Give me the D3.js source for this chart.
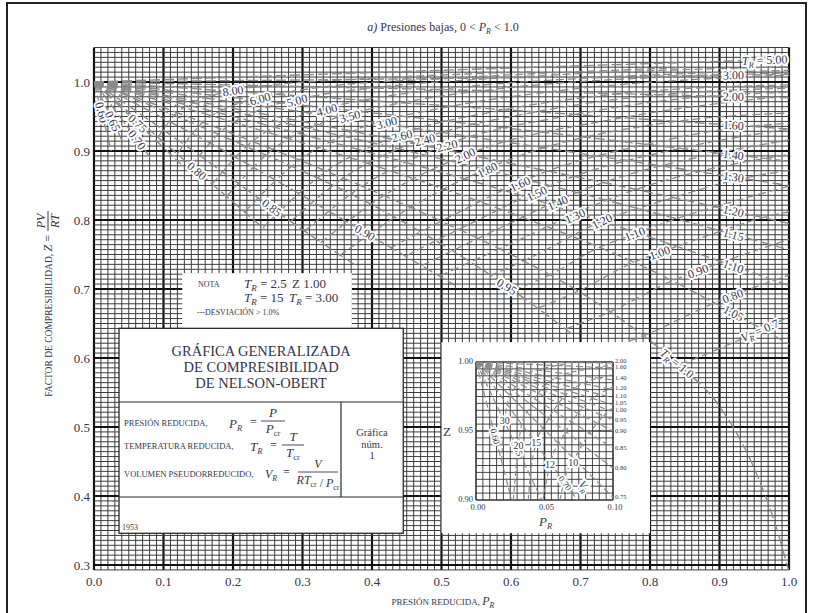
<!DOCTYPE html>
<html>
<head>
<meta charset="utf-8">
<script src="https://cdn.jsdelivr.net/npm/d3@7"></script>
<style>
  body { margin: 0; background: #fff; }
  svg { display: block; }
  text { font-family: "Liberation Serif", "DejaVu Serif", serif; fill: #33364a; }
</style>
</head>
<body>
<svg id="chart" width="814" height="613"></svg>
<script>
// ---- values ----
const xTicks = [0, 0.1, 0.2, 0.3, 0.4, 0.5, 0.6, 0.7, 0.8, 0.9, 1.0];
const yTicks = [0.3, 0.4, 0.5, 0.6, 0.7, 0.8, 0.9, 1.0];

// constant reduced temperature curves, [P_R, Z]
const trNames = ['0.60', '0.65', '0.70', '0.75', '0.80', '0.85', '0.90', '0.95', '1.00',
  '1.05', '1.10', '1.15', '1.20', '1.30', '1.40', '1.60', '2.00', '3.00', '5.00'];
const trLines = [
  [[0, 1], [0.015, 0.94], [0.025, 0.9]],
  [[0, 1], [0.03, 0.937], [0.045, 0.905]],
  [[0, 1], [0.06, 0.919], [0.085, 0.885]],
  [[0, 1], [0.08, 0.924], [0.125, 0.881]],
  [[0, 1], [0.1, 0.913], [0.2, 0.826], [0.245, 0.787]],
  [[0, 1], [0.15, 0.895], [0.3, 0.786], [0.38, 0.732]],
  [[0, 1], [0.2, 0.893], [0.4, 0.776], [0.52, 0.705]],
  [[0, 1], [0.2, 0.915], [0.4, 0.822], [0.6, 0.70], [0.69, 0.633]],
  [[0, 1], [0.1, 0.963], [0.2, 0.925], [0.3, 0.885], [0.4, 0.843], [0.5, 0.798], [0.6, 0.75],
    [0.7, 0.695], [0.8, 0.625], [0.85, 0.583], [0.9, 0.53], [0.95, 0.44], [0.98, 0.36], [1.0, 0.29]],
  [[0, 1], [0.2, 0.942], [0.4, 0.88], [0.6, 0.81], [0.8, 0.728], [0.92, 0.665], [1.0, 0.62]],
  [[0, 1], [0.2, 0.95], [0.4, 0.897], [0.6, 0.84], [0.8, 0.775], [1.0, 0.705]],
  [[0, 1], [0.2, 0.957], [0.4, 0.912], [0.6, 0.864], [0.8, 0.812], [1.0, 0.757]],
  [[0, 1], [0.2, 0.962], [0.4, 0.923], [0.6, 0.882], [0.8, 0.84], [1.0, 0.795]],
  [[0, 1], [0.2, 0.971], [0.4, 0.942], [0.6, 0.912], [0.8, 0.881], [1.0, 0.85]],
  [[0, 1], [0.25, 0.972], [0.5, 0.944], [0.75, 0.915], [1.0, 0.885]],
  [[0, 1], [0.5, 0.966], [1.0, 0.932]],
  [[0, 1], [0.5, 0.989], [1.0, 0.977]],
  [[0, 1], [0.5, 1.005], [1.0, 1.011]],
  [[0, 1], [0.5, 1.017], [1.0, 1.033]]
];
const trLabelAt = [0.011, 0.027, 0.062, 0.063, 0.148, 0.256, 0.39, 0.594, 0.839,
  0.92, 0.92, 0.92, 0.92, 0.92, 0.92, 0.92, 0.92, 0.92, 0.965];

// constant pseudo-reduced volume curves, [P_R, Z]
const vrNames = ['8.00', '6.00', '5.00', '4.00', '3.50', '3.00', '2.60', '2.40', '2.20', '2.00',
  '1.80', '1.60', '1.50', '1.40', '1.30', '1.20', '1.10', '1.00', '0.90', '0.80', '0.7'];
const vrLines = [
  [[0.092, 0.92], [0.12, 0.956], [0.146, 0.972], [0.197, 0.987], [0.249, 0.995], [0.376, 1.004], [0.635, 1.015]],
  [[0.12, 0.896], [0.157, 0.942], [0.193, 0.963], [0.262, 0.982], [0.331, 0.993], [0.503, 1.005], [0.851, 1.021]],
  [[0.14, 0.878], [0.186, 0.931], [0.23, 0.956], [0.313, 0.979], [0.397, 0.991], [0.605, 1.007], [1.0, 1.022]],
  [[0.17, 0.852], [0.229, 0.915], [0.284, 0.946], [0.389, 0.974], [0.495, 0.989], [0.756, 1.008], [1.0, 1.017]],
  [[0.191, 0.834], [0.258, 0.903], [0.322, 0.938], [0.443, 0.97], [0.564, 0.988], [0.865, 1.009], [1.0, 1.013]],
  [[0.217, 0.812], [0.296, 0.887], [0.371, 0.928], [0.515, 0.965], [0.657, 0.986], [1.0, 1.01]],
  [[0.243, 0.789], [0.335, 0.871], [0.423, 0.917], [0.591, 0.96], [0.756, 0.983], [1.0, 0.996]],
  [[0.283, 0.798], [0.359, 0.861], [0.456, 0.911], [0.638, 0.957], [0.818, 0.982], [1.0, 0.991]],
  [[0.303, 0.784], [0.386, 0.849], [0.493, 0.904], [0.693, 0.953], [0.891, 0.98], [1.0, 0.985]],
  [[0.326, 0.767], [0.418, 0.836], [0.537, 0.895], [0.759, 0.948], [0.978, 0.978]],
  [[0.353, 0.748], [0.455, 0.818], [0.589, 0.884], [0.838, 0.943], [1.0, 0.955]],
  [[0.427, 0.76], [0.499, 0.798], [0.653, 0.871], [0.796, 0.91], [0.935, 0.935], [1.0, 0.94]],
  [[0.449, 0.748], [0.524, 0.786], [0.69, 0.863], [0.844, 0.904], [1.0, 0.932]],
  [[0.472, 0.734], [0.552, 0.773], [0.732, 0.854], [0.897, 0.897], [1.0, 0.916]],
  [[0.498, 0.719], [0.583, 0.758], [0.779, 0.844], [0.87, 0.87], [1.0, 0.895]],
  [[0.569, 0.719], [0.617, 0.74], [0.731, 0.798], [0.832, 0.832], [0.932, 0.86], [1.0, 0.872]],
  [[0.603, 0.698], [0.655, 0.72], [0.724, 0.759], [0.781, 0.781], [0.838, 0.802], [0.893, 0.819], [1.0, 0.849]],
  [[0.638, 0.672], [0.697, 0.697], [0.775, 0.738], [0.837, 0.761], [0.902, 0.784], [0.965, 0.804], [1.0, 0.812]],
  [[0.678, 0.642], [0.74, 0.666], [0.83, 0.711], [0.904, 0.739], [0.976, 0.764], [1.0, 0.772]],
  [[0.722, 0.608], [0.79, 0.632], [0.893, 0.68], [0.98, 0.713], [1.0, 0.72]],
  [[0.843, 0.59], [0.963, 0.642], [1.0, 0.66]]
];
const vrLabelAt = [0.2, 0.239, 0.292, 0.335, 0.368, 0.421, 0.443, 0.476, 0.508, 0.534,
  0.566, 0.613, 0.637, 0.667, 0.692, 0.731, 0.778, 0.814, 0.869, 0.919, 0.958];

// small inset, 0 < P_R < 0.10
const insetXTicks = [0, 0.05, 0.1];
const insetYTicks = [0.9, 0.95, 1.0];
const insetTrNames = ['2.00', '1.60', '1.40', '1.20', '1.10', '1.05', '1.00', '0.95', '0.90', '0.85', '0.80', '0.75'];
const insetTrEnds = [0.9993, 0.9957, 0.987, 0.98, 0.974, 0.969, 0.964, 0.958, 0.95, 0.9377, 0.923, 0.902];
const insetLowNames = ['0.60', '0.65', '0.70'];
const insetLowLines = [
  [[0, 1], [0.026, 0.9]],
  [[0, 1], [0.048, 0.9]],
  [[0, 1], [0.074, 0.9]]
];
const insetLowLabelAt = [0.014, 0.03, 0.065];
const insetVrNames = ['30', '20', '15', '12', '10'];
const insetVrLines = [
  [[0.0186, 0.928], [0.0208, 0.956], [0.0227, 0.969], [0.026, 0.977], [0.0329, 0.988], [0.0397, 0.9925], [0.0532, 0.9964], [0.0666, 0.9985]],
  [[0.0273, 0.9], [0.0305, 0.936], [0.0334, 0.955], [0.0387, 0.966], [0.0491, 0.982], [0.0593, 0.989], [0.0796, 0.9946], [0.0998, 0.9978]],
  [[0.0381, 0.9], [0.0396, 0.917], [0.0438, 0.941], [0.0511, 0.9556], [0.0651, 0.976], [0.0788, 0.985], [0.0923, 0.989], [0.1, 0.991]],
  [[0.0489, 0.9], [0.0543, 0.927], [0.0629, 0.945], [0.0808, 0.97], [0.098, 0.981], [0.1, 0.982]],
  [[0.0613, 0.9], [0.0641, 0.913], [0.0747, 0.935], [0.0964, 0.964], [0.1, 0.967]]
];
const insetVrLabelAt = [0.021, 0.031, 0.044, 0.054, 0.071];

// ---- drawing ----
const svg = d3.select('#chart');
const x = d3.scaleLinear().domain([0, 1]).range([94, 789]);
const y = d3.scaleLinear().domain([0.3, 1.0]).range([565, 82]);
const zTop = 1.05, zBot = 0.3 - 1 / 140;
const curveCol = '#8a8a8a';

// outer frame
svg.append('rect').attr('x', 7).attr('y', 3).attr('width', 799).attr('height', 630)
    .attr('fill', 'none').attr('stroke', '#222').attr('stroke-width', 2);

// graph paper
const grid = svg.append('g');
d3.range(0, 101).forEach(i => {
    grid.append('line')
        .attr('x1', x(i / 100)).attr('x2', x(i / 100))
        .attr('y1', y(zBot)).attr('y2', y(zTop))
        .attr('stroke', i % 10 === 0 ? '#111' : '#3c3c3c')
        .attr('stroke-width', i % 10 === 0 ? 2.2 : 1);
});
d3.range(-1, 106).forEach(i => {
    const v = 0.3 + i / 140;
    grid.append('line')
        .attr('x1', x(0)).attr('x2', x(1))
        .attr('y1', y(v)).attr('y2', y(v))
        .attr('stroke', i % 14 === 0 ? '#111' : '#3c3c3c')
        .attr('stroke-width', i % 14 === 0 ? 2.2 : 1);
});

svg.append('clipPath').attr('id', 'plotClip').append('rect')
    .attr('x', x(0)).attr('y', y(zTop)).attr('width', x(1) - x(0)).attr('height', y(zBot) - y(zTop));

const line = d3.line().x(d => x(d[0])).y(d => y(d[1])).curve(d3.curveMonotoneX);
const curves = svg.append('g').attr('clip-path', 'url(#plotClip)');

curves.selectAll('path.tr').data(trLines).enter().append('path')
    .attr('class', 'tr')
    .attr('d', line)
    .attr('fill', 'none').attr('stroke', curveCol).attr('stroke-width', 1.4)
    .attr('stroke-dasharray', '10,4');

curves.selectAll('path.vr').data(vrLines).enter().append('path')
    .attr('class', 'vr')
    .attr('d', line)
    .attr('fill', 'none').attr('stroke', curveCol).attr('stroke-width', 1.3)
    .attr('stroke-dasharray', '8,4');

// point + angle on a polyline at a given P_R
function along(pts, p, sx, sy) {
    let i = 0;
    while (i < pts.length - 2 && pts[i + 1][0] < p) i++;
    const a = pts[i], b = pts[i + 1];
    const t = (p - a[0]) / (b[0] - a[0]);
    const z = a[1] + t * (b[1] - a[1]);
    const ang = Math.atan2(sy(b[1]) - sy(a[1]), sx(b[0]) - sx(a[0])) * 180 / Math.PI;
    return { px: sx(p), py: sy(z), ang: ang };
}

function halo(sel) {
    return sel.attr('stroke', '#fff').attr('stroke-width', 4).attr('paint-order', 'stroke')
        .attr('stroke-linejoin', 'round');
}

function subLabel(g, sym, rest, size) {
    const t = g.append('text').attr('font-size', size).attr('text-anchor', 'middle').attr('dy', '0.35em');
    t.append('tspan').attr('font-style', 'italic').text(sym);
    t.append('tspan').attr('font-style', 'italic').attr('font-size', size * 0.7).attr('dy', '0.35em').text('R');
    t.append('tspan').attr('dy', '-0.25em').text(rest);
    return t;
}

// main curve labels
const labels = svg.append('g');
trLines.forEach((pts, i) => {
    const pos = along(pts, trLabelAt[i], x, y);
    const g = labels.append('g').attr('transform', `translate(${pos.px},${pos.py}) rotate(${pos.ang})`);
    let t;
    if (trNames[i] === '5.00') t = subLabel(g, 'T', ' = 5.00', 12);
    else if (trNames[i] === '1.00') t = subLabel(g, 'T', ' = 1.0', 12);
    else t = g.append('text').attr('font-size', 12).attr('text-anchor', 'middle').attr('dy', '0.35em').text(trNames[i]);
    halo(t);
});
vrLines.forEach((pts, i) => {
    const pos = along(pts, vrLabelAt[i], x, y);
    const g = labels.append('g').attr('transform', `translate(${pos.px},${pos.py}) rotate(${pos.ang})`);
    let t;
    if (vrNames[i] === '0.7') {
        t = g.append('text').attr('font-size', 12).attr('text-anchor', 'middle').attr('dy', '0.35em');
        t.append('tspan').attr('font-style', 'italic').text('V');
        t.append('tspan').attr('font-style', 'italic').attr('font-size', 8).attr('dy', '0.35em').text('R');
        t.append('tspan').attr('dy', '-0.25em').text(' = 0.7');
    } else {
        t = g.append('text').attr('font-size', 12).attr('text-anchor', 'middle').attr('dy', '0.35em').text(vrNames[i]);
    }
    halo(t);
});

// axis tick labels
svg.append('g').selectAll('text').data(yTicks).enter().append('text')
    .attr('x', x(0) - 4).attr('y', d => y(d)).attr('dy', '0.35em')
    .attr('text-anchor', 'end').attr('font-size', 13)
    .text(d3.format('.1f'));
svg.append('g').selectAll('text').data(xTicks).enter().append('text')
    .attr('x', d => x(d)).attr('y', y(zBot) + 16)
    .attr('text-anchor', 'middle').attr('font-size', 13)
    .text(d3.format('.1f'));

// title
const title = svg.append('text').attr('x', 443).attr('y', 31).attr('text-anchor', 'middle').attr('font-size', 12);
title.append('tspan').attr('font-style', 'italic').text('a)');
title.append('tspan').text(' Presiones bajas, 0 < ');
title.append('tspan').attr('font-style', 'italic').text('P');
title.append('tspan').attr('font-style', 'italic').attr('font-size', 8).attr('dy', 3).text('R');
title.append('tspan').attr('dy', -3).text(' < 1.0');

// x-axis title
const xt = svg.append('text').attr('x', 443).attr('y', 605).attr('text-anchor', 'middle').attr('font-size', 9);
xt.append('tspan').text('PRESIÓN REDUCIDA, ');
xt.append('tspan').attr('font-style', 'italic').attr('font-size', 12).text('P');
xt.append('tspan').attr('font-style', 'italic').attr('font-size', 8).attr('dy', 3).text('R');

// y-axis title (rotated)
const yt = svg.append('g').attr('transform', 'translate(52,305) rotate(-90)');
const ytText = yt.append('text').attr('x', 70).attr('y', 0).attr('text-anchor', 'end').attr('font-size', 9.5);
ytText.append('tspan').text('FACTOR DE COMPRESIBILIDAD, ');
ytText.append('tspan').attr('font-style', 'italic').attr('font-size', 12).text('Z');
ytText.append('tspan').attr('font-size', 12).text(' =');
yt.append('text').attr('x', 84).attr('y', -7).attr('text-anchor', 'middle').attr('font-size', 12)
    .attr('font-style', 'italic').text('PV');
yt.append('line').attr('x1', 74).attr('x2', 94).attr('y1', -4).attr('y2', -4).attr('stroke', '#33364a');
yt.append('text').attr('x', 84).attr('y', 7).attr('text-anchor', 'middle').attr('font-size', 12)
    .attr('font-style', 'italic').text('RT');

// ---- boxes ----
const boxStroke = '#2a2a2a';
function box(p0, p1, z0, z1) {
    return svg.append('rect').attr('x', x(p0)).attr('y', y(z1))
        .attr('width', x(p1) - x(p0)).attr('height', y(z0) - y(z1))
        .attr('fill', '#fff');
}

// note box
box(0.127, 0.371, 0.643, 0.723).attr('stroke', 'none');
const nota = svg.append('g');
nota.append('text').attr('x', 198).attr('y', 287).attr('font-size', 8).text('NOTA');
function trEq(g, xx, yy, rest) {
    const t = g.append('text').attr('x', xx).attr('y', yy).attr('font-size', 13);
    t.append('tspan').attr('font-style', 'italic').text('T');
    t.append('tspan').attr('font-style', 'italic').attr('font-size', 9).attr('dy', 3).text('R');
    t.append('tspan').attr('dy', -3).text(rest);
    return t;
}
trEq(nota, 244, 288, ' = 2.5   ');
nota.append('text').attr('x', 292).attr('y', 288).attr('font-size', 13).text('Z 1.00');
trEq(nota, 244, 302, ' = 15');
trEq(nota, 289, 302, ' = 3.00');
nota.append('text').attr('x', 197).attr('y', 315).attr('font-size', 8).text('---DESVIACIÓN > 1.0%');

// main title block
box(0.036, 0.445, 0.346, 0.643).attr('stroke', boxStroke).attr('stroke-width', 1.3);
const mb = svg.append('g');
const bx0 = x(0.036), bx1 = x(0.445);
mb.append('line').attr('x1', bx0).attr('x2', bx1).attr('y1', 402).attr('y2', 402).attr('stroke', boxStroke).attr('stroke-width', 1.2);
mb.append('line').attr('x1', bx0).attr('x2', bx1).attr('y1', 497).attr('y2', 497).attr('stroke', boxStroke).attr('stroke-width', 1.2);
mb.append('line').attr('x1', 341).attr('x2', 341).attr('y1', 402).attr('y2', 497).attr('stroke', boxStroke).attr('stroke-width', 1.2);
['GRÁFICA GENERALIZADA', 'DE COMPRESIBILIDAD', 'DE NELSON-OBERT'].forEach((s, i) => {
    mb.append('text').attr('x', (bx0 + bx1) / 2).attr('y', 356 + i * 16).attr('text-anchor', 'middle')
        .attr('font-size', 14.5).text(s);
});
mb.append('text').attr('x', 124).attr('y', 426).attr('font-size', 8.5).text('PRESIÓN REDUCIDA,');
mb.append('text').attr('x', 124).attr('y', 449).attr('font-size', 8.5).text('TEMPERATURA REDUCIDA,');
mb.append('text').attr('x', 124).attr('y', 477).attr('font-size', 8.5).text('VOLUMEN PSEUDORREDUCIDO,');

function sym(g, xx, yy, s, sub, size) {
    const t = g.append('text').attr('x', xx).attr('y', yy).attr('font-size', size);
    t.append('tspan').attr('font-style', 'italic').text(s);
    t.append('tspan').attr('font-style', 'italic').attr('font-size', size * 0.65).attr('dy', 3).text(sub);
    return t;
}
function frac(g, cx, yl, w, num, den, size) {
    g.append('line').attr('x1', cx - w / 2).attr('x2', cx + w / 2).attr('y1', yl).attr('y2', yl)
        .attr('stroke', '#33364a').attr('stroke-width', 0.9);
    g.append('text').attr('x', cx).attr('y', yl - 4).attr('text-anchor', 'middle')
        .attr('font-size', size).attr('font-style', 'italic').text(num);
    const d = g.append('text').attr('x', cx).attr('y', yl + 12).attr('text-anchor', 'middle').attr('font-size', size);
    den.forEach(p => {
        d.append('tspan').attr('font-style', p[1] ? 'italic' : null).text(p[0]);
        if (p[2]) d.append('tspan').attr('font-size', size * 0.65).attr('dy', 3).text(p[2]);
        if (p[2]) d.append('tspan').attr('dy', -3).text('');
    });
}
sym(mb, 229, 428, 'P', 'R', 13);
mb.append('text').attr('x', 250).attr('y', 426).attr('font-size', 12).text('=');
frac(mb, 273, 421, 24, 'P', [['P', true, 'cr']], 13);

sym(mb, 250, 451, 'T', 'R', 13);
mb.append('text').attr('x', 270).attr('y', 449).attr('font-size', 12).text('=');
frac(mb, 293, 445, 22, 'T', [['T', true, 'cr']], 13);

sym(mb, 265, 478, 'V', 'R', 12);
mb.append('text').attr('x', 283).attr('y', 476).attr('font-size', 12).text('=');
frac(mb, 318, 472, 40, 'V', [['RT', true, 'cr'], [' / ', false], ['P', true, 'cr']], 12);

['Gráfica', 'núm.', '1'].forEach((s, i) => {
    mb.append('text').attr('x', 372).attr('y', 436 + i * 11.5).attr('text-anchor', 'middle')
        .attr('font-size', 10.5).text(s);
});
mb.append('text').attr('x', bx0 + 3).attr('y', 530).attr('font-size', 8).text('1953');

// inset block
box(0.5, 0.8, 0.346, 0.623).attr('stroke', 'none');
const ix = d3.scaleLinear().domain([0, 0.1]).range([476, 613]);
const iy = d3.scaleLinear().domain([0.9, 1.0]).range([500, 362]);
const inset = svg.append('g');
d3.range(0, 21).forEach(i => {
    inset.append('line').attr('x1', ix(i * 0.005)).attr('x2', ix(i * 0.005)).attr('y1', iy(0.9)).attr('y2', iy(1))
        .attr('stroke', '#333').attr('stroke-width', i % 10 === 0 ? 1.6 : 0.9);
    inset.append('line').attr('y1', iy(0.9 + i * 0.005)).attr('y2', iy(0.9 + i * 0.005)).attr('x1', ix(0)).attr('x2', ix(0.1))
        .attr('stroke', '#333').attr('stroke-width', i % 10 === 0 ? 1.6 : 0.9);
});
svg.append('clipPath').attr('id', 'insetClip').append('rect')
    .attr('x', ix(0)).attr('y', iy(1.0)).attr('width', ix(0.1) - ix(0)).attr('height', iy(0.9) - iy(1.0));
const iline = d3.line().x(d => ix(d[0])).y(d => iy(d[1]));
const ic = inset.append('g').attr('clip-path', 'url(#insetClip)');
ic.selectAll('path.itr').data(insetTrEnds.map(e => [[0, 1], [0.1, e]])).enter().append('path')
    .attr('d', iline).attr('fill', 'none').attr('stroke', curveCol).attr('stroke-width', 1.2)
    .attr('stroke-dasharray', '7,3');
ic.selectAll('path.ilow').data(insetLowLines).enter().append('path')
    .attr('d', iline).attr('fill', 'none').attr('stroke', curveCol).attr('stroke-width', 1.2)
    .attr('stroke-dasharray', '7,3');
ic.selectAll('path.ivr').data(insetVrLines).enter().append('path')
    .attr('d', iline.curve(d3.curveMonotoneX)).attr('fill', 'none').attr('stroke', curveCol).attr('stroke-width', 1.2)
    .attr('stroke-dasharray', '5,3');

// right-hand inset labels, pushed apart just enough not to collide
const insetLabelY = [];
insetTrEnds.forEach((e, i) => {
    let yy = iy(e);
    if (i > 0 && yy - insetLabelY[i - 1] < 6) yy = insetLabelY[i - 1] + 6;
    insetLabelY.push(yy);
});
const shiftUp = Math.max(0, insetLabelY[0] - iy(insetTrEnds[0]) + 2);
inset.selectAll('text.itr').data(insetTrNames).enter().append('text')
    .attr('x', ix(0.1) + 2).attr('y', (d, i) => insetLabelY[i] - (i < 7 ? shiftUp : 0)).attr('dy', '0.32em')
    .attr('font-size', 6.5).text(d => d);
insetLowLines.forEach((pts, i) => {
    const pos = along(pts, insetLowLabelAt[i], ix, iy);
    halo(inset.append('text').attr('transform', `translate(${pos.px},${pos.py}) rotate(${pos.ang})`)
        .attr('text-anchor', 'middle').attr('dy', '0.35em').attr('font-size', 9).text(insetLowNames[i]));
});
insetVrLines.forEach((pts, i) => {
    const pos = along(pts, insetVrLabelAt[i], ix, iy);
    halo(inset.append('text').attr('x', pos.px).attr('y', pos.py)
        .attr('text-anchor', 'middle').attr('dy', '0.35em').attr('font-size', 10).text(insetVrNames[i]));
});
const ivr = halo(inset.append('text').attr('transform', `translate(${ix(0.079)},${iy(0.91)}) rotate(55)`)
    .attr('text-anchor', 'middle').attr('dy', '0.35em').attr('font-size', 11));
ivr.append('tspan').attr('font-style', 'italic').text('V');
ivr.append('tspan').attr('font-style', 'italic').attr('font-size', 7).attr('dy', 3).text('R');

inset.selectAll('text.iy').data(insetYTicks).enter().append('text')
    .attr('x', ix(0) - 3).attr('y', d => iy(d)).attr('dy', '0.2em').attr('text-anchor', 'end')
    .attr('font-size', 8.5).text(d3.format('.2f'));
inset.selectAll('text.ix').data(insetXTicks).enter().append('text')
    .attr('x', d => ix(d) + 2).attr('y', iy(0.9) + 10).attr('text-anchor', 'middle')
    .attr('font-size', 8.5).text(d3.format('.2f'));
inset.append('text').attr('x', 443).attr('y', iy(0.95)).attr('dy', '0.35em').attr('font-size', 13).text('Z');
sym(inset, 539, 526, 'P', 'R', 13);
</script>
</body>
</html>
